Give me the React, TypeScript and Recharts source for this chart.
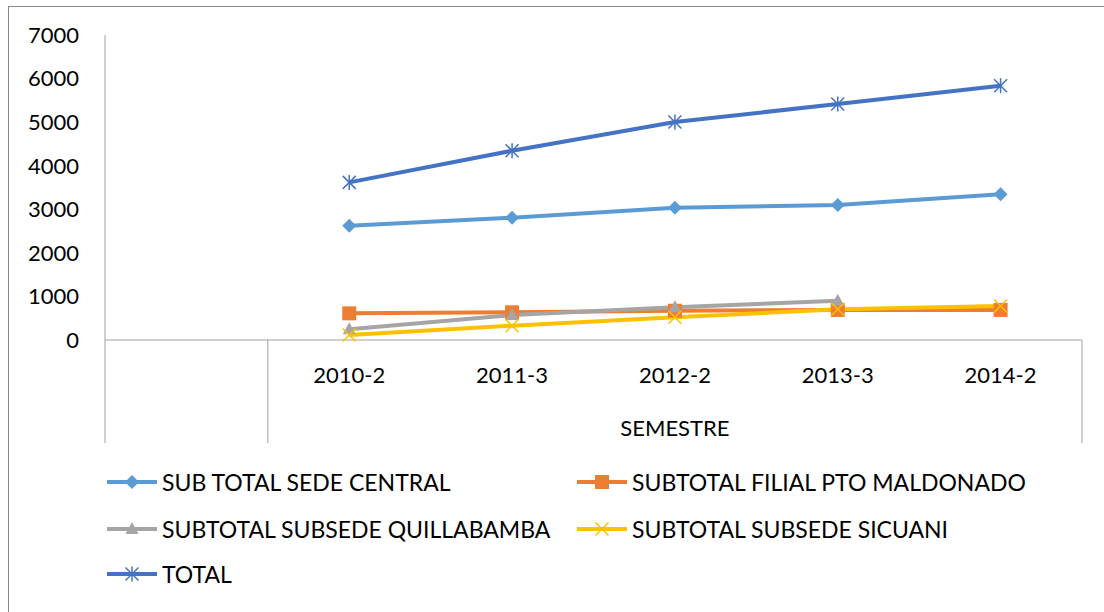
import { LineChart, Line, XAxis, YAxis } from 'recharts';

const semestres = ['', '2010-2', '2011-3', '2012-2', '2013-3', '2014-2'];
const sedeCentral = [null, 2624, 2807, 3037, 3098, 3344];
const filialMaldonado = [null, 612, 635, 672, 690, 690];
const subsedeQuillabamba = [null, 245, 574, 750, 902, null];
const subsedeSicuani = [null, 115, 328, 521, 705, 780];
const total = [null, 3617, 4345, 5003, 5417, 5837];
const yTicks = [0, 1000, 2000, 3000, 4000, 5000, 6000, 7000];

const data = semestres.map((s, i) => ({
  semestre: s,
  central: sedeCentral[i],
  maldonado: filialMaldonado[i],
  quillabamba: subsedeQuillabamba[i],
  sicuani: subsedeSicuani[i],
  total: total[i],
}));

type Shape = 'diamond' | 'square' | 'triangle' | 'x' | 'star';

const series: { key: string; name: string; color: string; shape: Shape }[] = [
  { key: 'central', name: 'SUB TOTAL SEDE CENTRAL', color: '#5B9BD5', shape: 'diamond' },
  { key: 'maldonado', name: 'SUBTOTAL FILIAL PTO MALDONADO', color: '#ED7D31', shape: 'square' },
  { key: 'quillabamba', name: 'SUBTOTAL SUBSEDE QUILLABAMBA', color: '#A5A5A5', shape: 'triangle' },
  { key: 'sicuani', name: 'SUBTOTAL SUBSEDE SICUANI', color: '#FFC000', shape: 'x' },
  { key: 'total', name: 'TOTAL', color: '#4472C4', shape: 'star' },
];

const FONT = 'Lato, "Open Sans", sans-serif';
const W = 1104;
const H = 612;
const M = { top: 35, right: 22, bottom: 169, left: 0 };
const Y_W = 105;
const X_H = 103;

function Marker({ cx, cy, shape, color }: { cx: number; cy: number; shape: Shape; color: string }) {
  if (shape === 'diamond') {
    const r = 7;
    return <polygon points={`${cx},${cy - r} ${cx + r},${cy} ${cx},${cy + r} ${cx - r},${cy}`} fill={color} />;
  }
  if (shape === 'square') {
    return <rect x={cx - 7} y={cy - 7} width={14} height={14} fill={color} />;
  }
  if (shape === 'triangle') {
    return <polygon points={`${cx},${cy - 7} ${cx + 6.5},${cy + 5} ${cx - 6.5},${cy + 5}`} fill={color} />;
  }
  if (shape === 'x') {
    const r = 6.5;
    return (
      <g stroke={color} strokeWidth={1.5}>
        <line x1={cx - r} y1={cy - r} x2={cx + r} y2={cy + r} />
        <line x1={cx - r} y1={cy + r} x2={cx + r} y2={cy - r} />
      </g>
    );
  }
  const r = 6.5;
  return (
    <g stroke={color} strokeWidth={1.5}>
      <line x1={cx - r} y1={cy - r} x2={cx + r} y2={cy + r} />
      <line x1={cx - r} y1={cy + r} x2={cx + r} y2={cy - r} />
      <line x1={cx} y1={cy - r - 1} x2={cx} y2={cy + r + 1} />
    </g>
  );
}

function CategoryTick(props: any) {
  const { x, y, payload, index } = props;
  const half =
    payload && typeof payload.offset === 'number' && payload.offset > 0
      ? payload.offset
      : (W - M.left - M.right - Y_W) / semestres.length / 2;
  const last = semestres.length - 1;
  const mid = Math.floor((1 + last) / 2);
  return (
    <g>
      <text
        x={x}
        y={y + 34}
        textAnchor="middle"
        dominantBaseline="central"
        fontFamily={FONT}
        fontSize={22}
        fill="#000"
      >
        {payload.value}
      </text>
      {index === 0 && (
        <>
          <line x1={x - half} y1={y} x2={x - half} y2={y + X_H} stroke="#a0a0a0" />
          <line x1={x + half} y1={y} x2={x + half} y2={y + X_H} stroke="#a0a0a0" />
        </>
      )}
      {index === last && <line x1={x + half} y1={y} x2={x + half} y2={y + X_H} stroke="#a0a0a0" />}
      {index === mid && (
        <text
          x={x}
          y={y + 87}
          textAnchor="middle"
          dominantBaseline="central"
          fontFamily={FONT}
          fontSize={22}
          fill="#000"
        >
          SEMESTRE
        </text>
      )}
    </g>
  );
}

function LegendBox() {
  const cols = [107, 577];
  const rows = [482, 529, 574];
  return (
    <>
      {series.map((s, i) => {
        const left = cols[i % 2];
        const top = rows[Math.floor(i / 2)];
        return (
          <div
            key={s.key}
            style={{
              position: 'absolute',
              left,
              top: top - 15,
              height: 30,
              display: 'flex',
              alignItems: 'center',
              fontFamily: FONT,
              fontSize: 23,
              color: '#000',
              whiteSpace: 'nowrap',
            }}
          >
            <svg width={50} height={30} style={{ marginRight: 5 }}>
              <line x1={0} y1={15} x2={50} y2={15} stroke={s.color} strokeWidth={4} />
              <Marker cx={25} cy={15} shape={s.shape} color={s.color} />
            </svg>
            {s.name}
          </div>
        );
      })}
    </>
  );
}

export default function App() {
  return (
    <div style={{ position: 'fixed', left: 0, top: 0, width: W, height: H, background: '#fff', overflow: 'hidden' }}>
      <div
        style={{
          position: 'absolute',
          left: 8,
          top: 6,
          width: W,
          height: H,
          borderLeft: '1px solid #8a8a8a',
          borderTop: '1px solid #8a8a8a',
        }}
      />
      <div style={{ position: 'absolute', left: 0, top: 0 }}>
        <LineChart width={W} height={H} data={data} margin={M}>
          <XAxis
            dataKey="semestre"
            scale="band"
            interval={0}
            height={X_H}
            tickLine={false}
            tickSize={0}
            tickMargin={0}
            axisLine={{ stroke: '#a0a0a0' }}
            tick={<CategoryTick />}
          />
          <YAxis
            width={Y_W}
            domain={[0, 7000]}
            ticks={yTicks}
            interval={0}
            tickLine={false}
            tickSize={6}
            tickMargin={20}
            axisLine={{ stroke: '#a0a0a0' }}
            tick={{ fontFamily: FONT, fontSize: 22, fill: '#000' }}
          />
          {series.map((s) => (
            <Line
              key={s.key}
              dataKey={s.key}
              name={s.name}
              stroke={s.color}
              strokeWidth={4}
              isAnimationActive={false}
              dot={(p: any) =>
                p.cx == null || p.cy == null || p.value == null ? (
                  <g key={`${s.key}-${p.index}`} />
                ) : (
                  <Marker key={`${s.key}-${p.index}`} cx={p.cx} cy={p.cy} shape={s.shape} color={s.color} />
                )
              }
              activeDot={false}
            />
          ))}
        </LineChart>
      </div>
      <LegendBox />
    </div>
  );
}
